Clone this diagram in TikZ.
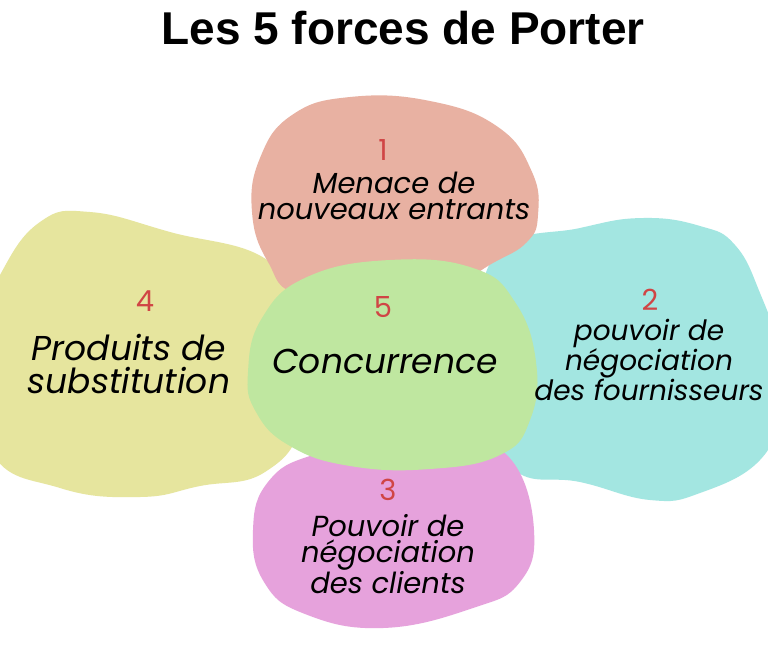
\documentclass[tikz,border=0pt]{standalone}
\usepackage{fontspec}
\setmainfont{Liberation Sans}
\newfontfamily\bodyf{Poppins}
\definecolor{csalmon}{HTML}{E8B1A2}
\definecolor{ccyan}{HTML}{A3E6E1}
\definecolor{cyellow}{HTML}{E6E59E}
\definecolor{cgreen}{HTML}{BFE7A0}
\definecolor{cpink}{HTML}{E6A2DC}
\definecolor{cnum}{HTML}{D04545}
\begin{document}
\begin{tikzpicture}[x=1pt,y=-1pt,
  blob/.style={smooth cycle,tension=0.75},
  num/.style={font=\bodyf\fontsize{29}{29}\selectfont,text=cnum,inner sep=0pt},
  lbl/.style={font=\bodyf\itshape\fontsize{29}{26.5}\selectfont,align=center,inner sep=0pt},
  big/.style={font=\bodyf\itshape\fontsize{34.5}{33}\selectfont,align=center,inner sep=0pt}]
\useasboundingbox (0,0) rectangle (768,662);
\fill[white] (0,0) rectangle (768,662);
% yellow
\fill[cyellow] plot[blob] coordinates {(-25,340) (0,275) (40,222) (90,212) (170,232) (270,262) (300,330) (302,420) (265,472) (200,486) (140,497) (60,488) (-10,450)};
% cyan
\fill[ccyan] plot[blob] coordinates {(500,250) (580,228) (643,218) (700,226) (735,245) (760,293) (778,350) (778,410) (760,460) (700,493) (650,500) (580,482) (517,472) (490,420) (480,330)};
% salmon
\fill[csalmon] plot[blob] coordinates {(350,97) (430,101) (498,127) (532,172) (538,215) (527,242) (493,263) (450,285) (390,290) (300,294) (268,262) (252,212) (260,158) (292,115)};
% pink
\fill[cpink] plot[blob] coordinates {(313,455) (390,443) (470,446) (513,462) (534,530) (520,582) (473,608) (383,628) (305,614) (264,582) (253,530) (268,482)};
% green
\fill[cgreen] plot[blob] coordinates {(248,372) (262,318) (307,277) (390,260) (473,268) (515,302) (536,362) (530,420) (500,455) (430,469) (350,466) (290,446) (256,412)};
% title
\node[font=\bfseries\fontsize{46}{46}\selectfont,inner sep=0pt] (title) at (403,28) {Les 5 forces de Porter};
% texts
\node[num] (n1) at (383,150) {1};
\node[lbl] (t1) at (394,196) {Menace de\\nouveaux entrants};
\node[num] (n2) at (650,300) {2};
\node[lbl,font=\bodyf\itshape\fontsize{28}{26.5}\selectfont] (t2) at (649,360) {pouvoir de\\négociation\\des fournisseurs};
\node[num] (n3) at (388,490) {3};
\node[lbl] (t3) at (388,554) {Pouvoir de\\négociation\\des clients};
\node[num] (n4) at (145,301) {4};
\node[big] (t4) at (129,364) {Produits de\\substitution};
\node[num] (n5) at (383,307) {5};
\node[big] (t5) at (385,361) {Concurrence};
\end{tikzpicture}
\end{document}
